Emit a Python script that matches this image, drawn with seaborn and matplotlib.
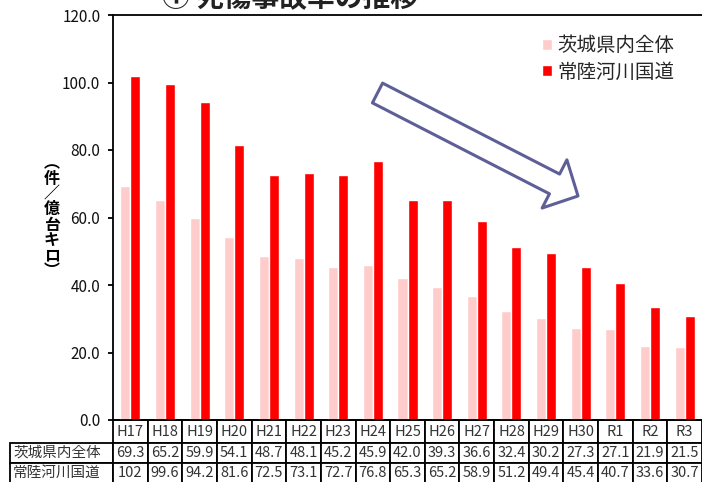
import numpy as np
import pandas as pd
import matplotlib
matplotlib.use("Agg")
import matplotlib.pyplot as plt
import seaborn as sns
from matplotlib.patches import FancyArrowPatch

categories = ["H17", "H18", "H19", "H20", "H21", "H22", "H23", "H24", "H25",
              "H26", "H27", "H28", "H29", "H30", "R1", "R2", "R3"]
series_names = ["茨城県内全体", "常陸河川国道"]
ibaraki = [69.3, 65.2, 59.9, 54.1, 48.7, 48.1, 45.2, 45.9, 42.0,
           39.3, 36.6, 32.4, 30.2, 27.3, 27.1, 21.9, 21.5]
hitachi = [102, 99.6, 94.2, 81.6, 72.5, 73.1, 72.7, 76.8, 65.3,
           65.2, 58.9, 51.2, 49.4, 45.4, 40.7, 33.6, 30.7]
yticks = [0, 20, 40, 60, 80, 100, 120]
title = "① 死傷事故率の推移"
ylabel = "（件／億台キロ）"

sns.set_theme(style="white")
plt.rcParams["font.family"] = ["Noto Sans CJK JP", "DejaVu Sans"]

W, H = 702, 482
fig = plt.figure(figsize=(W / 100, H / 100), dpi=100)
ax = fig.add_axes([113 / W, 1 - 420 / H, 589 / W, 405 / H])

df = pd.DataFrame({
    "cat": categories * 2,
    "series": [series_names[0]] * len(categories) + [series_names[1]] * len(categories),
    "value": ibaraki + hitachi,
})
colors = ["#FFCCCC", "#FF0000"]
sns.barplot(data=df, x="cat", y="value", hue="series", order=categories,
            hue_order=series_names, palette=colors, width=0.58, gap=0,
            saturation=1, ax=ax, legend=True)

ax.set_xlim(-0.5, len(categories) - 0.5)
ax.set_ylim(0, 120)
ax.set_yticks(yticks)
ax.set_yticklabels([f"{v:.1f}" for v in yticks], fontsize=11, color="#111111")
ax.set_xticks([])
ax.set_xlabel("")
ax.set_ylabel("")
ax.tick_params(axis="y", direction="out", length=3.6, width=1.3, color="black", pad=5.5, left=True)
for s in ["left", "top", "bottom"]:
    ax.spines[s].set_visible(True)
    ax.spines[s].set_color("black")
    ax.spines[s].set_linewidth(1.3)
ax.spines["right"].set_visible(False)

# legend
handles, labels = ax.get_legend_handles_labels()
ax.legend(handles, labels, loc="upper left", bbox_to_anchor=(542 / W, 1 - 35 / H),
          bbox_transform=fig.transFigure, frameon=False, fontsize=14,
          handlelength=0.5, handleheight=0.5, handletextpad=0.3, labelspacing=0.3,
          borderaxespad=0, borderpad=0)

# data table
def fmt(v):
    return f"{v:.0f}" if v >= 100 else f"{v:.1f}"

cell_text = [[series_names[0]] + [fmt(v) for v in ibaraki],
             [series_names[1]] + [fmt(v) for v in hitachi]]
rl_w = 103 / 589
col_w = 1 / len(categories)
tbl = ax.table(cellText=cell_text, colLabels=[""] + categories,
               cellLoc="center", colLoc="center",
               colWidths=[rl_w] + [col_w] * len(categories),
               bbox=[-rl_w, -63 / 405, 1 + rl_w, 63 / 405])
tbl.auto_set_font_size(False)
for (r, c), cell in tbl.get_celld().items():
    cell.set_edgecolor("black")
    cell.set_linewidth(1.3)
    cell.set_facecolor("white")
    cell.set_height(23 if r == 0 else 20)
    cell.get_text().set_fontsize(10.5)
    cell.get_text().set_color("#333333")
    if c == 0:
        cell._loc = "left"
        cell.get_text().set_ha("left")
        cell.PAD = 0.03
        if r == 0:
            cell.visible_edges = ""
            cell.set_facecolor("none")

# y label (vertical text)
fig.text(52 / W, 1 - 217 / H, "︵\n件\n／\n億\n台\nキ\nロ\n︶", ha="center", va="center",
         fontsize=11.5, fontweight="bold", linespacing=0.95, color="black")

# title (partly cut off at the top, as in the reference)
fig.text(290 / W, 1 + 1 / H, title, ha="center", va="center", fontsize=20,
         fontweight="bold", color="#222222")

# hollow trend arrow
arrow = FancyArrowPatch((377.5 / W, 1 - 93 / H), (578 / W, 1 - 196 / H),
                        transform=fig.transFigure,
                        arrowstyle="simple,head_length=19,head_width=39,tail_width=16",
                        mutation_scale=1, shrinkA=0, shrinkB=0,
                        facecolor="white", edgecolor="#5F5F98", linewidth=2.2)
fig.patches.append(arrow)

fig.savefig("out.png", dpi=100)
